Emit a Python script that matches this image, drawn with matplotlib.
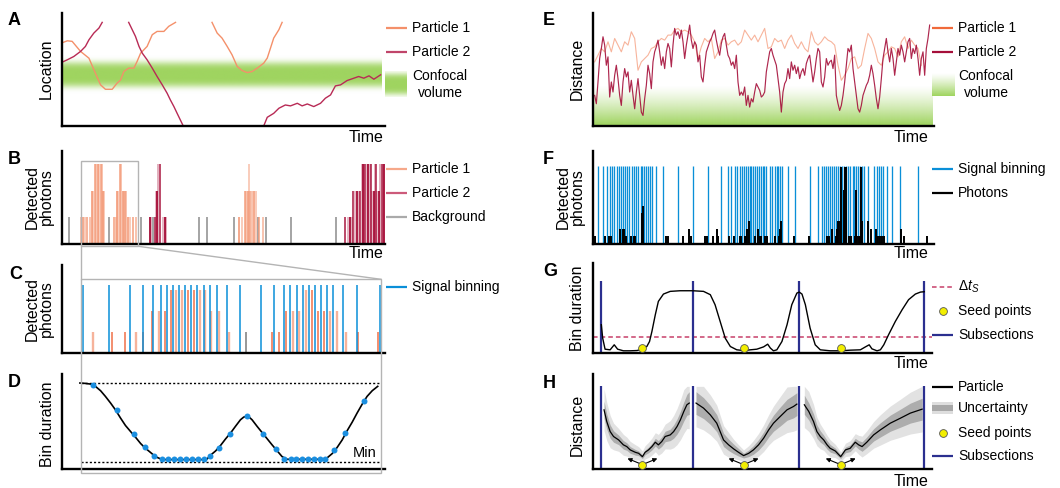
import matplotlib
matplotlib.use("Agg")
import matplotlib.pyplot as plt
import numpy as np
from matplotlib.colors import to_rgb, to_rgba
from matplotlib.patches import Rectangle

plt.rcParams["font.family"] = ["Liberation Sans", "DejaVu Sans"]
plt.rcParams["mathtext.fontset"] = "custom"
plt.rcParams["mathtext.rm"] = "Liberation Sans"
plt.rcParams["mathtext.it"] = "Liberation Sans:italic"

# ---------------- data ----------------
# A: location traces (time 0-100, location 0-100)
a_p1_s1_t = [0, 1.8, 3.3, 5.9, 8.5, 10.5, 12.1, 13.6, 15.7, 17.2, 18.3, 19.3, 20.8, 22.4, 23.4, 24.5, 26.5, 28.1, 29.6, 31.7, 33.2, 35.3]
a_p1_s1_y = [73.4, 75.4, 74.9, 66, 60, 46.7, 36.4, 32.5, 32.5, 37.9, 40.8, 48.2, 51.2, 51.2, 57.1, 64.5, 70.4, 80.8, 83.7, 83.7, 88.2, 91.7]
a_p1_s2_t = [46.6, 48.2, 49.7, 51.3, 52.8, 54.4, 55.9, 57.5, 59.0, 60.6, 62.6, 63.7, 64.7, 65.7, 67.3, 68.3]
a_p1_s2_y = [91.7, 82.2, 77.8, 70.4, 63.0, 52.7, 49.1, 47.3, 48.2, 51.2, 55.6, 60.1, 68.9, 77.8, 85.2, 91.7]
a_p2_s1_t = [0, 1.8, 3.8, 5.9, 7.4, 8.5, 10.0, 11.6, 12.6]
a_p2_s1_y = [56.2, 58.6, 61.5, 66.0, 70.4, 76.3, 82.2, 86.7, 91.7]
a_p2_s2_t = [20.8, 21.9, 22.9, 24.0, 25.0, 26.5, 28.1, 29.6, 31.2, 32.7, 33.7, 34.8, 35.8, 36.8, 37.7]
a_p2_s2_y = [91.7, 85.2, 79.3, 70.4, 64.5, 58.6, 51.2, 43.8, 36.4, 29.0, 23.1, 17.2, 11.2, 5.3, 0]
a_p2_s3_t = [62.6, 63.7, 65.7, 67.3, 69.3, 70.9, 73.0, 74.5, 76.1, 78.1, 80.2, 81.7, 83.3, 84.8, 86.4, 88.4, 90.5, 92.0, 93.6, 95.2, 96.7, 98.8]
a_p2_s3_y = [0, 7.7, 11.2, 15.7, 18.6, 17.8, 20.1, 17.8, 19.5, 17.2, 20.1, 24.6, 27.5, 35.5, 36.4, 40.2, 42.3, 43.8, 42.3, 44.4, 41.4, 45.3]
a_focus_y = 45.5

# B: photon arrival times and counts
b_p1_t = [6.0, 6.7, 7.3, 8.0, 8.8, 9.3, 9.8, 10.4, 10.8, 11.2, 11.6, 12.1, 12.5, 12.9, 13.3,
          16.3, 16.8, 17.2, 17.6, 18.0, 18.5, 18.9, 19.3, 19.7, 20.1, 20.6, 21.3, 22.2, 23.2,
          55.0, 55.9, 56.7, 57.2, 57.6, 58.0, 58.5, 59.0, 59.5, 60.1, 61.1, 62.5]
b_p1_n = [1, 1, 1, 1, 1, 2, 2, 3, 3, 3, 3, 3, 3, 2, 2,
          1, 1, 2, 2, 3, 3, 2, 2, 2, 2, 1, 1, 1, 1,
          1, 1, 2, 2, 2, 3, 2, 2, 2, 2, 1, 1]
b_p2_t = [27.3, 27.8, 28.8, 29.3, 29.6, 30.0, 30.5, 31.4, 32.0, 32.5,
          87.9, 88.7, 89.2, 89.8, 90.4, 90.9, 91.4, 92.0, 92.5, 92.9, 93.3, 93.7, 94.1, 94.5,
          95.0, 95.4, 95.8, 96.2, 96.6, 97.0, 97.4, 97.8, 98.2, 98.7, 99.1, 99.5, 99.9]
b_p2_n = [1, 1, 1, 2, 2, 3, 3, 1, 1, 1,
          1, 1, 1, 1, 2, 2, 2, 2, 2, 3, 3, 3, 3, 3,
          3, 3, 3, 2, 2, 3, 3, 2, 2, 3, 3, 3, 3]
b_bg_t = [2.4, 14.7, 24.5, 28.2, 42.6, 45.1, 53.4, 60.8, 63.4, 71.0, 84.9]

# C: zoomed window
c_bin_t = [6.7, 14.7, 21.2, 25.3, 28.4, 30.8, 32.7, 34.5, 36.4, 38.2, 40.1, 41.9, 44.1, 46.1, 48.1,
           51.2, 55.3, 61.8, 65.8, 68.9, 70.8, 72.9, 74.7, 76.6, 78.4, 80.3, 82.1, 84.0, 87.1, 91.4, 98.6]
c_dark_t = [15.6, 19.7, 25.3, 28.0, 32.1, 33.9, 39.3, 41.0, 65.2, 67.3, 69.5, 77.5, 79.4, 81.3, 91.8, 97.9]
c_dark_n = [1, 1, 1, 2, 2, 3, 3, 3, 1, 1, 2, 3, 2, 2, 1, 1]
c_light_t = [9.6, 23.0, 30.2, 35.6, 37.4, 42.8, 44.5, 46.4, 48.9, 51.8, 71.8, 73.6, 75.6, 83.2, 85.4, 88.1]
c_light_n = [1, 1, 2, 3, 3, 3, 3, 2, 2, 1, 2, 2, 3, 2, 2, 1]
c_bg_t = [57.1]

# D: bin duration
d_curve_t = [5.7, 7.4, 9.0, 10.5, 12.1, 13.6, 15.2, 16.7, 18.3, 19.8, 21.4, 23.0, 24.5, 26.0, 27.6,
             29.1, 30.7, 32.2, 44.1, 45.1, 46.1, 47.7, 49.2, 50.8, 52.3, 53.9, 55.4, 56.4, 57.3,
             58.1, 59.0, 60.6, 62.1, 63.7, 65.2, 66.8, 68.3, 69.9, 80.7, 82.2, 83.8, 85.3, 86.9,
             88.4, 90.0, 91.5, 93.1, 94.6, 96.2, 97.9]
d_curve_y = [90.5, 90.1, 89.4, 87.0, 82.4, 76.4, 69.4, 62.3, 53.5, 45.8, 39.4, 33.1, 26.8, 21.8, 17.3,
             13.0, 10.6, 9.9, 9.9, 10.6, 14.4, 19.0, 24.6, 31.7, 37.7, 45.1, 51.8, 54.6, 55.6,
             54.6, 51.8, 44.7, 38.4, 31.7, 25.4, 19.0, 13.0, 10.2, 10.2, 11.6, 16.2, 22.5, 30.6,
             40.1, 49.3, 58.8, 68.3, 76.4, 82.4, 87.0]
d_dot_t = [9.8, 17.2, 22.4, 26.0, 28.6, 31.2, 33.0, 34.9, 36.7, 38.6, 40.5, 42.3, 44.2, 45.9, 48.7,
           52.2, 57.3, 62.5, 66.3, 69.0, 70.9, 72.7, 74.5, 76.3, 78.1, 80.0, 81.7, 84.4, 87.9, 93.6]
d_dot_y = [88.0, 61.6, 37.0, 22.9, 14.1, 10.2, 10.2, 10.2, 10.2, 10.2, 10.2, 10.2, 10.2, 14.1, 22.5,
           37.0, 55.3, 37.0, 21.5, 10.2, 10.2, 10.2, 10.2, 10.2, 10.2, 10.2, 10.6, 19.7, 37.7, 71.1]
d_max_y = 90.5
d_min_y = 7.0

# E: distance traces (sampled every 5 / 10 time units from t=15)
e_p2_d = [90, 65, 130, 200, 230, 265, 240, 180, 205, 85,
          130, 100, 150, 180, 140, 90, 60, 130, 170, 145,
          160, 100, 135, 90, 50, 100, 140, 90, 40, 30,
          80, 120, 180, 155, 110, 190, 220, 235, 255, 220,
          180, 205, 170, 220, 245, 230, 175, 240, 290, 270,
          280, 260, 285, 250, 200, 240, 270, 300, 255, 230,
          250, 240, 190, 210, 145, 130, 180, 220, 235, 250,
          260, 275, 285, 255, 230, 210, 245, 265, 275, 240,
          210, 200, 180, 190, 170, 210, 130, 90, 100, 90,
          115, 60, 90, 55, 80, 70, 100, 125, 115, 105,
          85, 90, 100, 160, 190, 220, 230, 210, 195, 180,
          140, 100, 40, 100, 125, 135, 170, 140, 190, 165,
          180, 155, 175, 140, 160, 170, 150, 185, 200, 210,
          170, 130, 160, 200, 230, 220, 130, 115, 145, 200,
          180, 190, 195, 170, 210, 90, 65, 45, 60, 90,
          130, 180, 230, 220, 240, 170, 130, 90, 50, 40,
          60, 90, 105, 120, 130, 150, 180, 155, 120, 80,
          50, 85, 140, 200, 230, 260, 220, 190, 230, 200,
          150, 190, 230, 210, 240, 220, 190, 220, 250, 260,
          200, 230, 215, 240, 200, 150, 200, 220, 150, 230,
          260, 300]
e_p1_d = [190, 210, 230, 220, 250, 220, 260, 240, 220, 250,
          240, 280, 260, 165, 190, 200, 210, 230, 235, 250,
          260, 255, 270, 270, 285, 290, 280, 285, 280, 270,
          250, 200, 235, 260, 250, 260, 200, 220, 255, 260,
          240, 250, 255, 240, 250, 285, 270, 255, 270, 250,
          270, 290, 230, 235, 260, 250, 255, 230, 255, 270,
          245, 230, 250, 230, 220, 280, 250, 240, 250, 265,
          255, 250, 240, 180, 135, 150, 170, 200, 205, 170,
          180, 230, 275, 260, 230, 190, 180, 210, 220, 235,
          230, 205, 250, 265, 230, 255, 240, 230, 180]
e_p2_t = 15 + 5 * np.arange(len(e_p2_d))
e_p1_t = 15 + 10 * np.arange(len(e_p1_d))

# F: signal binning edges and photon counts
f_bin_t = [1.5, 2.9, 4.1, 5.0, 5.5, 6.2, 7.1, 7.7, 8.3, 8.9, 9.5, 10.1, 10.7, 11.5, 12.1, 12.7, 13.3,
           14.2, 14.5, 15.1, 15.6, 16.2, 16.8, 17.4, 18.6, 20.6, 24.9, 29.3, 33.7, 37.5, 39.6, 40.6,
           41.7, 42.3, 43.0, 43.6, 44.2, 44.8, 45.4, 45.9, 46.3, 46.9, 47.5, 48.1, 48.7, 49.3, 49.9,
           50.2, 50.8, 51.8, 52.6, 53.4, 54.0, 54.3, 54.9, 55.5, 57.2, 59.2, 63.6, 66.1, 67.3, 67.8,
           68.4, 69.0, 69.6, 70.2, 70.8, 71.4, 71.9, 72.5, 73.1, 73.7, 74.3, 74.9, 75.5, 76.1, 76.6,
           77.2, 77.8, 78.4, 79.0, 79.6, 80.7, 82.4, 83.3, 83.9, 84.5, 85.0, 86.2, 87.7, 90.0, 95.3]
f_ph_t = [0.5, 3.5, 4.7, 5.2, 7.9, 8.9, 9.2, 9.7, 11.1, 12.0, 12.4, 14.3, 14.6, 21.5, 22.0, 26.4,
          28.2, 28.7, 32.9, 33.4, 35.2, 36.4, 36.7, 39.9, 41.3, 43.2, 43.5, 44.6, 45.0, 45.3, 45.7,
          47.5, 48.4, 48.9, 49.3, 50.4, 50.9, 53.4, 54.5, 54.8, 55.1, 58.9, 63.3, 68.6, 69.2, 70.1,
          71.3, 71.6, 71.9, 72.3, 72.7, 73.6, 73.9, 74.2, 75.1, 75.7, 76.9, 77.1, 77.5, 78.0, 78.3,
          78.6, 78.9, 80.6, 81.5, 82.9, 83.6, 84.2, 84.8, 85.3, 90.3, 91.2, 97.9]
f_ph_n = [1, 1, 1, 1, 2, 2, 2, 1, 1, 1, 1, 4, 5, 1, 1, 1,
          2, 1, 1, 1, 1, 2, 1, 1, 1, 1, 1, 1, 1, 2, 3,
          1, 2, 1, 1, 1, 1, 1, 1, 2, 3, 1, 1, 1, 1, 2,
          1, 2, 3, 3, 10, 7, 10, 10, 1, 1, 1, 7, 1, 1, 1,
          10, 3, 3, 2, 2, 1, 1, 1, 1, 2, 1, 1]

# G: bin duration with threshold
g_curve_t = [2.6, 3.0, 3.7, 5.2, 6.4, 7.4, 9.1, 11.1, 13.1, 14.7, 16.0, 16.8, 17.5, 18.5, 19.4,
             20.9, 22.9, 25.8, 29.5, 32.7, 34.7, 36.1, 37.6, 39.1, 40.6, 42.5, 44.5, 46.5, 48.4,
             50.4, 51.6, 52.4, 53.3, 54.3, 55.8, 57.3, 58.7, 60.2, 60.9, 61.7, 62.7, 64.1, 65.6,
             67.1, 70.0, 73.0, 75.9, 78.9, 80.4, 81.5, 82.3, 83.8, 84.8, 85.8, 87.2, 89.2, 91.2,
             93.1, 95.1, 96.6, 97.7]
g_curve_y = [31.0, 16.0, 3.7, 3.0, 8.6, 3.7, 1.9, 1.9, 2.2, 3.7, 6.7, 12.3, 23.5, 42.2, 57.1,
             65.3, 68.3, 69.0, 69.0, 68.3, 64.6, 53.4, 34.7, 16.0, 6.7, 3.0, 2.2, 3.0, 3.7,
             6.3, 9.3, 4.9, 1.9, 3.0, 12.3, 31.0, 53.4, 66.4, 67.5, 65.3, 53.4, 27.2, 8.6,
             3.0, 1.9, 1.9, 2.6, 3.0, 6.3, 8.6, 4.1, 1.9, 3.0, 8.6, 19.8, 34.7, 47.8,
             59.0, 65.3, 67.5, 67.9]
g_threshold = 17.2
g_seed_t = [14.7, 44.5, 73.1]
g_seed_y = 4.9
sub_t = [2.6, 29.5, 60.9, 97.7]
g_sub_top = 80.2

# H: reconstructed distance with uncertainty
h_s1_t = [3.4, 4.2, 5.2, 6.2, 7.7, 9.1, 10.1, 11.1, 12.6, 13.6, 14.7, 15.5, 16.5, 17.5, 18.5, 19.4,
          20.4, 21.4, 22.9, 23.9, 24.9, 25.9, 26.9, 27.8, 28.5]
h_s1_y = [62.3, 50.0, 39.4, 34.2, 30.6, 25.4, 23.6, 20.1, 17.6, 16.5, 13.0, 17.6, 20.1, 23.6, 28.2,
          25.4, 28.9, 34.2, 35.9, 39.4, 44.7, 51.8, 60.6, 67.6, 69.4]
h_s1_in = [9, 8, 7, 6, 5, 4.5, 4, 3.5, 3, 2.5, 2, 2.5, 3, 3.5, 4, 4.5, 5, 5.5, 6, 7, 8, 9, 10, 11, 12]
h_s1_out = [22, 20, 17, 14, 12, 11, 10, 9, 8, 7, 6, 7, 8, 9, 10, 11, 12, 13, 15, 17, 19, 21, 23, 25, 27]
h_s2_t = [30.5, 32.7, 34.7, 36.6, 37.6, 38.6, 40.1, 41.6, 43.0, 44.5, 46.0, 47.4, 48.9, 50.4, 51.9,
          53.3, 55.3, 57.3, 59.2, 60.2]
h_s2_y = [69.4, 64.1, 57.0, 48.2, 39.4, 30.6, 25.4, 21.1, 17.6, 14.1, 16.5, 20.1, 25.4, 32.4, 41.2,
          48.2, 55.3, 62.3, 65.8, 68.3]
h_s2_in = [12, 11, 10, 9, 8, 7, 6, 5, 4, 2.5, 3.5, 4.5, 5.5, 6.5, 7.5, 8.5, 10, 11, 12, 12]
h_s2_out = [25, 23, 21, 19, 17, 15, 13, 10, 8, 6, 8, 10, 12, 14, 16, 18, 21, 24, 26, 27]
h_s3_t = [62.4, 63.7, 65.1, 66.1, 67.1, 68.1, 69.1, 70.0, 71.5, 73.1, 74.5, 75.9, 77.4, 78.4, 79.4,
          80.8, 82.8, 84.8, 87.7, 90.7, 93.6, 97.1]
h_s3_y = [67.6, 60.6, 50.0, 39.4, 34.2, 30.6, 25.4, 21.8, 19.0, 13.0, 20.1, 21.8, 28.2, 25.4, 23.6,
          28.2, 35.9, 41.2, 48.2, 53.5, 58.8, 63.0]
h_s3_in = [10, 9, 8, 7, 6, 5, 4.5, 4, 3, 2, 3, 3.5, 4, 4.5, 5, 5.5, 6.5, 7.5, 8.5, 9.5, 10.5, 11.5]
h_s3_out = [24, 21, 18, 15, 13, 11, 10, 9, 7, 5, 7, 8, 9, 10, 11, 12, 14, 16, 18, 20, 22, 24]
h_seed_t = [14.7, 44.5, 73.1]
h_seed_y = 4.6
h_sub_top = 87.0

# ---------------- styling ----------------
GREEN = to_rgb("#9fd45f")
BLUE = "#0a8fd8"
NAVY = "#2b2f8f"
SEED = "#f2ee00"
P1_A, P2_A = "#f4906a", "#b82a55"
P1_B, P2_B, BG = "#f39a78", "#a50a35", "#8c8c8c"
P1_E, P2_E = "#f06a3a", "#a50f3a"
BOX = "#b4b4b4"
LEG_FS, LAB_FS = 10, 11.5

W, H = 1060, 488
fig = plt.figure(figsize=(W / 100, H / 100), dpi=100)


def make_axes(x0, y0, x1, y1):
    ax = fig.add_axes([x0 / W, 1 - y1 / H, (x1 - x0) / W, (y1 - y0) / H])
    for s in ("top", "right"):
        ax.spines[s].set_visible(False)
    for s in ("left", "bottom"):
        ax.spines[s].set_linewidth(1.7)
    ax.set_xticks([])
    ax.set_yticks([])
    ax.patch.set_alpha(0)
    return ax


def green_img(alpha):
    img = np.zeros((len(alpha), 1, 4))
    img[..., :3] = GREEN
    img[..., 3] = alpha[:, None]
    return img


def cycled(color, n, alphas):
    return [to_rgba(color, alphas[i % len(alphas)]) for i in range(n)]


# ---- A ----
ax = make_axes(61.5, 13, 384.5, 126)
yy = np.linspace(25, 66, 200)
ax.imshow(green_img(np.exp(-((yy - a_focus_y) / 11) ** 4)), extent=[0, 99, 25, 66],
          origin="lower", aspect="auto", interpolation="bilinear", zorder=0)
for t, y in [(a_p1_s1_t, a_p1_s1_y), (a_p1_s2_t, a_p1_s2_y)]:
    ax.plot(t, y, color=P1_A, lw=1.0)
for t, y in [(a_p2_s1_t, a_p2_s1_y), (a_p2_s2_t, a_p2_s2_y), (a_p2_s3_t, a_p2_s3_y)]:
    ax.plot(t, y, color=P2_A, lw=1.0)
ax.set_xlim(0, 100)
ax.set_ylim(0, 100)

# ---- B ----
ax = make_axes(61.5, 151, 384.5, 244)
ax.vlines(b_bg_t, 0, 1, color=BG, lw=1.1)
ax.vlines(b_p1_t, 0, b_p1_n, colors=cycled(P1_B, len(b_p1_t), [0.6, 0.85, 0.5, 0.75]), lw=1.4)
ax.vlines(b_p2_t, 0, b_p2_n, colors=cycled(P2_B, len(b_p2_t), [1.0, 0.35, 0.8, 0.3]), lw=1.3)
ax.set_xlim(0, 100)
ax.set_ylim(0, 3.5)

# ---- C ----
ax = make_axes(61.5, 265, 384.5, 352.5)
ax.vlines(c_light_t, 0, c_light_n, color="#f6b39b", lw=1.7)
ax.vlines(c_dark_t, 0, c_dark_n, color="#f07048", lw=1.1)
ax.vlines(c_bg_t, 0, 1, color="#7a7a7a", lw=1.1)
ax.vlines(c_bin_t, 0, 3.24, color=BLUE, lw=1.1)
ax.set_xlim(0, 100)
ax.set_ylim(0, 4.17)

# ---- D ----
ax = make_axes(61.5, 374, 384.5, 469)
ax.hlines([d_max_y, d_min_y], 5.9, 98.9, color="k", lw=1.0, linestyles=[(0, (1.5, 1.5))])
ax.plot(d_curve_t, d_curve_y, color="k", lw=1.2)
ax.plot(d_dot_t, d_dot_y, "o", color="#1b8fe0", ms=4.3, mec="none", zorder=3)
ax.text(97.5, 9.5, "Min", ha="right", va="bottom", fontsize=10.5)
ax.set_xlim(0, 100)
ax.set_ylim(0, 100)

# ---- E ----
ax = make_axes(593, 13, 934, 125.5)
yy = np.linspace(0, 118, 200)
ax.imshow(green_img(np.clip(1 - yy / 118, 0, 1) ** 1.3), extent=[10, 1030, 0, 118],
          origin="lower", aspect="auto", interpolation="bilinear", zorder=0)
ax.plot(e_p1_t, e_p1_d, color=P1_E, lw=0.8, alpha=0.5)
ax.plot(e_p2_t, e_p2_d, color=P2_E, lw=0.85, alpha=0.9)
ax.set_xlim(10, 1033)
ax.set_ylim(0, 336)

# ---- F ----
ax = make_axes(593, 151, 934, 244)
ax.vlines(f_bin_t, 0, 10.2, color=BLUE, lw=0.95)
ax.vlines(f_ph_t, 0, f_ph_n, color="k", lw=1.4)
ax.set_xlim(0, 100)
ax.set_ylim(0, 12.1)

# ---- G ----
ax = make_axes(592.5, 263, 932, 352.5)
ax.axhline(g_threshold, color="#c8406a", lw=1.1, ls=(0, (3, 2)))
ax.vlines(sub_t, 0, g_sub_top, color=NAVY, lw=1.6)
ax.plot(g_curve_t, g_curve_y, color="k", lw=1.0)
ax.plot(g_seed_t, [g_seed_y] * len(g_seed_t), "o", ms=5.6, mfc=SEED, mec="#555555", mew=0.6, zorder=5)
ax.set_xlim(0, 100)
ax.set_ylim(0, 100)

# ---- H ----
ax = make_axes(592.5, 374, 932, 469)
for t, y, w_in, w_out in [(h_s1_t, h_s1_y, h_s1_in, h_s1_out),
                          (h_s2_t, h_s2_y, h_s2_in, h_s2_out),
                          (h_s3_t, h_s3_y, h_s3_in, h_s3_out)]:
    y = np.array(y)
    w_in = np.array(w_in)
    w_out = np.array(w_out)
    ax.fill_between(t, np.clip(y - w_out, 0, h_sub_top), np.clip(y + w_out, 0, h_sub_top),
                    color="#e2e2e2", lw=0)
    ax.fill_between(t, np.clip(y - w_in, 0, h_sub_top), np.clip(y + w_in, 0, h_sub_top),
                    color="#adadad", lw=0)
    ax.plot(t, y, color="k", lw=0.9)
ax.vlines(sub_t, 0, h_sub_top, color=NAVY, lw=1.6)
for s in h_seed_t:
    for dx in (-4.4, 4.4):
        ax.annotate("", xy=(s + dx, h_seed_y + 6.5), xytext=(s + dx * 0.15, h_seed_y + 1.0),
                    arrowprops=dict(arrowstyle="-|>", lw=0.8, color="k", mutation_scale=6,
                                    shrinkA=0, shrinkB=0))
ax.plot(h_seed_t, [h_seed_y] * len(h_seed_t), "o", ms=5.6, mfc=SEED, mec="#555555", mew=0.6, zorder=5)
ax.set_xlim(0, 100)
ax.set_ylim(0, 100)

# ---------------- overlay: letters, labels, legends, zoom box ----------------
ov = fig.add_axes([0, 0, 1, 1], zorder=10)
ov.patch.set_alpha(0)
ov.axis("off")

for letter, x, y in [("A", 8, 12), ("B", 8, 151), ("C", 9, 266), ("D", 8, 374),
                     ("E", 543, 12), ("F", 543, 151), ("G", 543, 263), ("H", 543, 375)]:
    ov.text(x, y, letter, fontsize=13, fontweight="bold", ha="left", va="top")

for s, x, y in [("Location", 46, 69), ("Detected\nphotons", 39.5, 197), ("Detected\nphotons", 39.5, 309),
                ("Bin duration", 47, 424), ("Distance", 577.5, 69), ("Detected\nphotons", 570, 197),
                ("Bin duration", 577.5, 308), ("Distance", 577.5, 425)]:
    ov.text(x, y, s, rotation=90, ha="center", va="center", fontsize=LAB_FS,
            linespacing=0.95, multialignment="center")

for x, y in [(383.5, 137), (383.5, 254), (929, 137), (929, 254), (929, 363.5), (929, 481)]:
    ov.text(x, y, "Time", ha="right", va="center", fontsize=LAB_FS)


def leg_line(x, y, text, **kw):
    ov.plot([x, x + 21], [y, y], solid_capstyle="butt", **kw)
    ov.text(x + 26, y, text, ha="left", va="center", fontsize=LEG_FS)


# left column legends
leg_line(385.5, 28, "Particle 1", color=P1_A, lw=1.6)
leg_line(385.5, 52, "Particle 2", color="#c0456a", lw=1.6)
yy = np.linspace(0, 1, 60)
ov.imshow(green_img(np.exp(-((yy - 0.5) / 0.42) ** 4)), extent=[385, 407, 97, 71],
          origin="upper", aspect="auto", interpolation="bilinear")
ov.text(440, 84.5, "Confocal\nvolume", ha="center", va="center", fontsize=LEG_FS, linespacing=1.25)
leg_line(385.5, 169, "Particle 1", color="#f6a88a", lw=1.6)
leg_line(385.5, 193, "Particle 2", color="#cc5a7a", lw=1.6)
leg_line(385.5, 217, "Background", color="#aaaaaa", lw=1.6)
leg_line(385.5, 287, "Signal binning", color=BLUE, lw=1.6)

# right column legends
leg_line(932, 28, "Particle 1", color=P1_E, lw=1.6)
leg_line(932, 52, "Particle 2", color=P2_E, lw=1.6)
ov.imshow(green_img(np.clip(yy, 0, 1) ** 1.2), extent=[932, 955, 96, 73],
          origin="upper", aspect="auto", interpolation="bilinear")
ov.text(986, 84.5, "Confocal\nvolume", ha="center", va="center", fontsize=LEG_FS, linespacing=1.25)
leg_line(932, 169, "Signal binning", color=BLUE, lw=1.6)
leg_line(932, 193, "Photons", color="k", lw=1.6)
leg_line(932, 287, r"$\Delta t_S$", color="#c8406a", lw=1.1, ls=(0, (3, 2)))
ov.plot([943], [311], "o", ms=5.6, mfc=SEED, mec="#555555", mew=0.6)
ov.text(958, 311, "Seed points", ha="left", va="center", fontsize=LEG_FS)
leg_line(932, 335, "Subsections", color=NAVY, lw=1.6)
leg_line(932, 387, "Particle", color="k", lw=1.6)
ov.add_patch(Rectangle((932, 402), 21, 12, color="#dedede", lw=0))
ov.add_patch(Rectangle((932, 405), 21, 6, color="#a8a8a8", lw=0))
ov.text(958, 408, "Uncertainty", ha="left", va="center", fontsize=LEG_FS)
ov.plot([943], [433], "o", ms=5.6, mfc=SEED, mec="#555555", mew=0.6)
ov.text(958, 433, "Seed points", ha="left", va="center", fontsize=LEG_FS)
leg_line(932, 456, "Subsections", color=NAVY, lw=1.6)

# zoom box linking B to C/D
ov.add_patch(Rectangle((80.7, 161.3), 57.6, 85.0, fill=False, ec=BOX, lw=1.0))
ov.plot([80.7, 80.7], [246.3, 279.3], color=BOX, lw=1.0)
ov.plot([138.3, 381], [246.3, 279.3], color=BOX, lw=1.0)
ov.add_patch(Rectangle((80.7, 279.3), 300.3, 193.7, fill=False, ec=BOX, lw=1.0))

ov.set_xlim(0, W)
ov.set_ylim(H, 0)

fig.savefig("out.png", dpi=100)
